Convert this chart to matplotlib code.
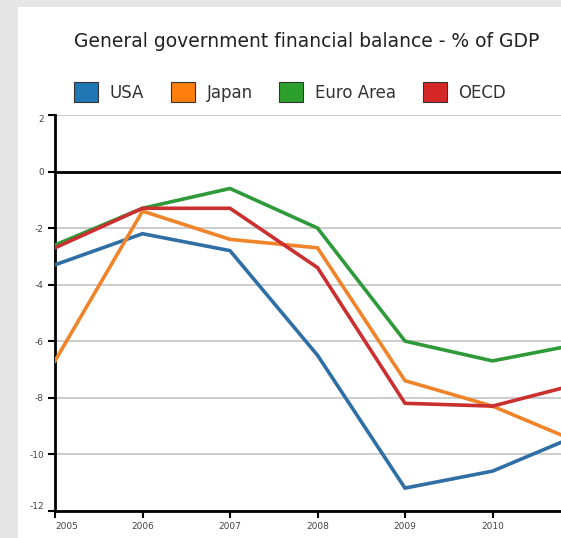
import matplotlib.pyplot as plt
from matplotlib.patches import Patch, Rectangle

plt.rcParams['axes.unicode_minus'] = False

years = [2005, 2006, 2007, 2008, 2009, 2010, 2011]
usa = [-3.3, -2.2, -2.8, -6.5, -11.2, -10.6, -9.3]
japan = [-6.7, -1.4, -2.4, -2.7, -7.4, -8.3, -9.6]
euro_area = [-2.6, -1.3, -0.6, -2.0, -6.0, -6.7, -6.1]
oecd = [-2.7, -1.3, -1.3, -3.4, -8.2, -8.3, -7.5]

series = [('USA', usa, '#2f6fa6'),
          ('Japan', japan, '#f0842a'),
          ('Euro Area', euro_area, '#2f9a3a'),
          ('OECD', oecd, '#c9302f')]
legend_colors = ['#1f77b4', '#ff7f0e', '#2ca02c', '#d62728']

fig = plt.figure(figsize=(5.61, 5.38), dpi=100)
fig.patch.set_facecolor('#e6e6e6')
# white panel behind the chart
fig.add_artist(Rectangle((18 / 561, 0), 1, 1 - 7 / 538, transform=fig.transFigure,
                         facecolor='white', edgecolor='none', zorder=0))

ax = fig.add_axes([55 / 561, 1 - 510.7 / 538, 525 / 561, (510.7 - 115) / 538])
ax.set_facecolor('none')

for name, values, color in series:
    ax.plot(years, values, color=color, lw=2.6, solid_joinstyle='miter', zorder=3)

ax.axhline(0, color='black', lw=2, zorder=2)
ax.set_xlim(2005, 2011)
ax.set_ylim(-12, 2)
ax.set_yticks(range(-12, 3, 2))
ax.set_xticks(years)
ax.set_xticklabels([str(y) for y in years])
ax.yaxis.grid(True, color='#c8c8c8', lw=1.3)
ax.set_axisbelow(True)

for side in ['top', 'right']:
    ax.spines[side].set_visible(False)
for side in ['left', 'bottom']:
    ax.spines[side].set_linewidth(2)
ax.tick_params(axis='both', direction='out', length=5, width=1.5,
               labelsize=6.5, labelcolor='#444444', pad=3)

ylabels = ax.get_yticklabels()
ylabels[0].set_va('bottom')
ylabels[-1].set_va('top')
ax.get_xticklabels()[0].set_ha('left')

fig.text(0.547, 0.922, 'General government financial balance - % of GDP',
         ha='center', va='center', fontsize=13.5, color='#222222')

handles = [Patch(facecolor=c, edgecolor='#333333', lw=0.8) for c in legend_colors]
fig.legend(handles, [s[0] for s in series], ncol=4, loc='center',
           bbox_to_anchor=(0.517, 0.829), frameon=False, fontsize=12,
           handlelength=1.45, handleheight=1.45, columnspacing=1.6, handletextpad=0.7,
           labelcolor='#333333')

fig.savefig('out.png', dpi=100)
